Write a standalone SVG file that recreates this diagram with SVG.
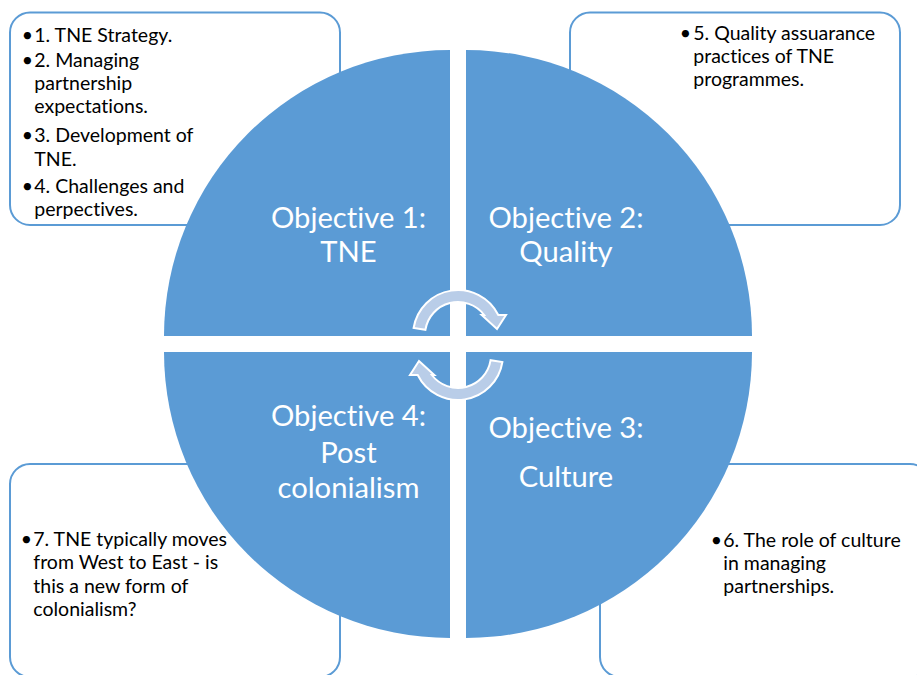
<svg xmlns="http://www.w3.org/2000/svg" width="917" height="675" viewBox="0 0 917 675">
<style>
text{font-family:Lato,"Liberation Sans",sans-serif;font-variant-ligatures:none;font-feature-settings:"liga" 0,"clig" 0}
.box{fill:#fff;stroke:#5B9BD5;stroke-width:2}
.q{fill:#5B9BD5}
.qt{font-size:29.2px;fill:#fff;text-anchor:middle}
.bt{font-size:19.5px;fill:#000}
.bl{font-size:19.5px;fill:#000;text-anchor:middle}
.arr{fill:#B9CDE8;stroke:#fff;stroke-width:2;stroke-linejoin:miter}
</style>
<rect width="917" height="675" fill="#fff"/>
<g id="box1">
<rect class="box" x="10" y="12.5" width="330" height="212.5" rx="20"/>
<text class="bl" x="27.5" y="41.7">•</text><text class="bt" x="34.3" y="41.7">1. TNE Strategy.</text>
<text class="bl" x="27.5" y="66.7">•</text><text class="bt" x="34.3" y="66.7">2. Managing</text>
<text class="bt" x="34.3" y="90">partnership</text>
<text class="bt" x="34.3" y="112.7">expectations.</text>
<text class="bl" x="27.5" y="141.7">•</text><text class="bt" x="34.3" y="141.7">3. Development of</text>
<text class="bt" x="34.3" y="165.7">TNE.</text>
<text class="bl" x="27.5" y="193.3">•</text><text class="bt" x="34.3" y="193.3">4. Challenges and</text>
<text class="bt" x="34.3" y="216">perpectives.</text>
</g>
<g id="box2">
<rect class="box" x="570" y="12.5" width="330" height="212.5" rx="20"/>
<text class="bl" x="685.3" y="40">•</text><text class="bt" x="693.3" y="40">5. Quality assuarance</text>
<text class="bt" x="693.3" y="63.3">practices of TNE</text>
<text class="bt" x="693.3" y="86">programmes.</text>
</g>
<g id="box3">
<rect class="box" x="600" y="464" width="330" height="213" rx="20"/>
<text class="bl" x="716.3" y="546.7">•</text><text class="bt" x="723.3" y="546.7">6. The role of culture</text>
<text class="bt" x="723.3" y="570">in managing</text>
<text class="bt" x="723.3" y="592.7">partnerships.</text>
</g>
<g id="box4">
<rect class="box" x="10" y="464" width="330" height="213" rx="20"/>
<text class="bl" x="26.5" y="546">•</text><text class="bt" x="33.3" y="546">7. TNE typically moves</text>
<text class="bt" x="33.3" y="569.3">from West to East - is</text>
<text class="bt" x="33.3" y="592.7">this a new form of</text>
<text class="bt" x="33.3" y="616">colonialism?</text>
</g>
<g id="obj1">
<path class="q" d="M450,336 L164,336 A286 286 0 0 1 450,50 Z"/>
<text class="qt" x="348.5" y="227.6">Objective 1:</text>
<text class="qt" x="348.5" y="262.4">TNE</text>
</g>
<g id="obj2">
<path class="q" d="M466,336 L466,50 A286 286 0 0 1 752,336 Z"/>
<text class="qt" x="566" y="227.6">Objective 2:</text>
<text class="qt" x="566" y="262.4">Quality</text>
</g>
<g id="obj3">
<path class="q" d="M466,352 L752,352 A286 286 0 0 1 466,638 Z"/>
<text class="qt" x="566" y="437.9">Objective 3:</text>
<text class="qt" x="566" y="487.3">Culture</text>
</g>
<g id="obj4">
<path class="q" d="M450,352 L450,638 A286 286 0 0 1 164,352 Z"/>
<text class="qt" x="348.5" y="426.4">Objective 4:</text>
<text class="qt" x="348.5" y="462.8">Post</text>
<text class="qt" x="348.5" y="498.4">colonialism</text>
</g>
<g id="connectors">
<path id="arrowTop" class="arr" d="M413.6,328 A45 45 0 0 1 498.3,315 L506,315 L497,329 L481.7,315 L484.2,315 A33 33 0 0 0 425.4,329.8 Z"/>
<path id="arrowBottom" class="arr" transform="rotate(180 458 345)" d="M413.6,328 A45 45 0 0 1 498.3,315 L506,315 L497,329 L481.7,315 L484.2,315 A33 33 0 0 0 425.4,329.8 Z"/>
</g>
</svg>
